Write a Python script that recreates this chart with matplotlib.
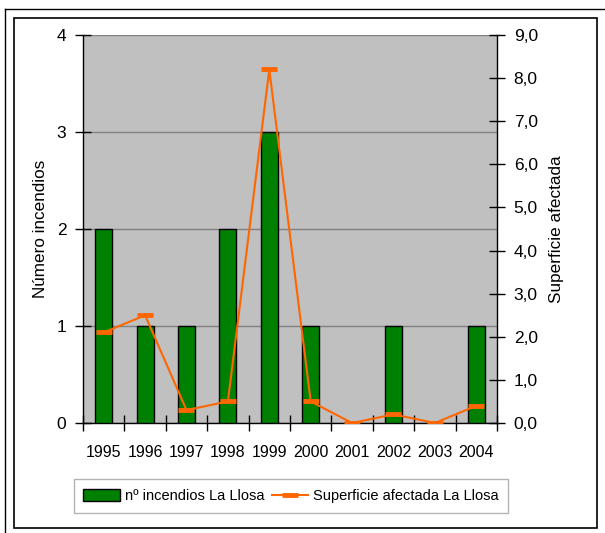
import numpy as np
import matplotlib
matplotlib.use('Agg')
import matplotlib.pyplot as plt
from matplotlib.patches import Rectangle
from matplotlib.lines import Line2D

years = ['1995', '1996', '1997', '1998', '1999', '2000', '2001', '2002', '2003', '2004']
incendios = [2, 1, 1, 2, 3, 1, 0, 1, 0, 1]
superficie = [2.1, 2.5, 0.3, 0.5, 8.2, 0.5, 0.0, 0.2, 0.0, 0.4]

plt.rcParams['font.family'] = ['Liberation Sans', 'DejaVu Sans']
plt.rcParams['font.size'] = 11

W, H = 605, 533
fig = plt.figure(figsize=(W / 100, H / 100), dpi=100)

# frame lines around the whole chart
fig.add_artist(Line2D([5 / W, 1], [1 - 9 / H, 1 - 9 / H], color='black', lw=1))
fig.add_artist(Line2D([5 / W, 5 / W], [0, 1 - 9 / H], color='black', lw=1))
fig.add_artist(Rectangle((14 / W, 5 / H), (597 - 14) / W, (528 - 18) / H,
                         fill=False, edgecolor='black', lw=1.2))

ax = fig.add_axes([83 / W, 1 - 423 / H, (497 - 83) / W, (423 - 35) / H])
ax.set_facecolor('#C0C0C0')

x = np.arange(len(years))
ax.bar(x, incendios, width=0.41, color='#008000', edgecolor='black', lw=1,
       label='nº incendios La Llosa', zorder=3)
ax.set_xlim(-0.5, len(years) - 0.5)
ax.set_ylim(0, 4)
ax.set_yticks([0, 1, 2, 3, 4])
ax.yaxis.grid(True, color='#808080', lw=1, zorder=0)
ax.set_axisbelow(True)

ax.set_xticks(np.arange(-0.5, len(years), 1))
ax.set_xticklabels([])
ax.set_xticks(x, minor=True)
ax.set_xticklabels(years, minor=True)
ax.tick_params(axis='x', which='major', direction='inout', length=12, width=1)
ax.tick_params(axis='x', which='minor', length=0, pad=16, labelsize=11.5)
ax.tick_params(axis='y', direction='inout', length=12, width=1, pad=6, labelsize=12.5)

ax.spines['top'].set_visible(False)
ax.spines['left'].set_linewidth(1)
ax.spines['bottom'].set_linewidth(1)
ax.spines['right'].set_visible(False)
ax.set_ylabel('Número incendios', fontsize=12.3, labelpad=6)

ax2 = ax.twinx()
ax2.plot(x, superficie, color='#FF6600', lw=1.5, marker='_', markersize=11,
         markeredgewidth=3.5, label='Superficie afectada La Llosa', zorder=4)
ax2.set_ylim(0, 9)
ax2.set_yticks(np.arange(0, 10, 1))
ax2.set_yticklabels([f'{v:.1f}'.replace('.', ',') for v in np.arange(0, 10, 1)])
ax2.tick_params(axis='y', direction='inout', length=12, width=1, pad=6, labelsize=12.5)
ax2.spines['top'].set_visible(False)
ax2.spines['left'].set_visible(False)
ax2.spines['bottom'].set_visible(False)
ax2.spines['right'].set_linewidth(1)
ax2.set_ylabel('Superficie afectada', fontsize=12.3, labelpad=8)

h1, l1 = ax.get_legend_handles_labels()
h2, l2 = ax2.get_legend_handles_labels()
leg = fig.legend(h1 + h2, l1 + l2, loc='center', bbox_to_anchor=(291 / W, 1 - 496 / H),
                 ncol=2, frameon=True, fancybox=False, edgecolor='#A0A0A0',
                 fontsize=10.5, handlelength=2.5, handleheight=0.9, handletextpad=0.35,
                 columnspacing=0.5, borderpad=0.65, borderaxespad=0)
leg.get_frame().set_linewidth(1)

fig.savefig('out.png', dpi=100)
